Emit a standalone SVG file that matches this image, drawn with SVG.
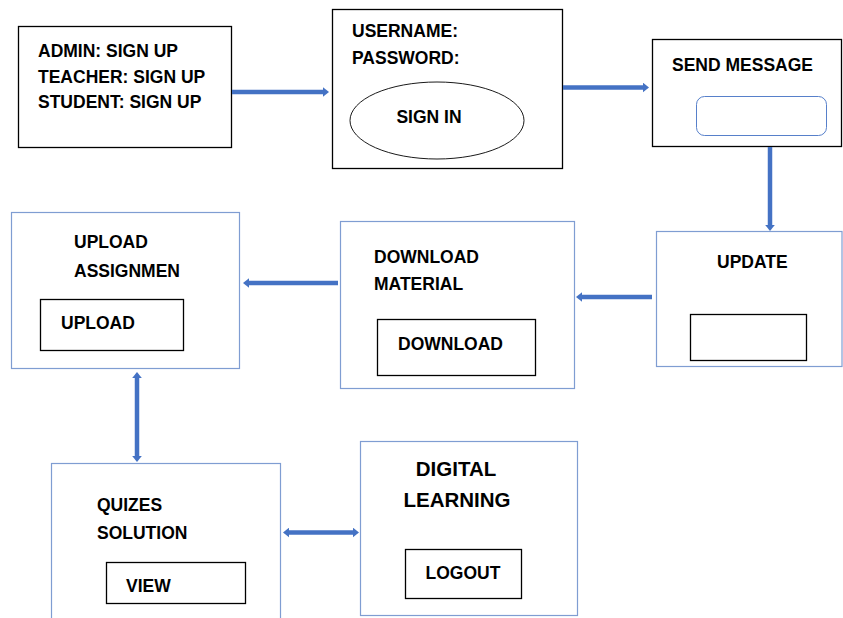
<svg xmlns="http://www.w3.org/2000/svg" width="843" height="618" viewBox="0 0 843 618">
<style>
.bk{fill:#fff;stroke:#000;stroke-width:1.3}
.bl{fill:#fff;stroke:#7F9DD2;stroke-width:1.2}
.t{font-family:"Liberation Sans",Arial,sans-serif;font-weight:bold;font-size:17.5px;fill:#000}
.tl{font-family:"Liberation Sans",Arial,sans-serif;font-weight:bold;font-size:20.5px;fill:#000}
.c{fill:none;stroke:#4472C4;stroke-width:4.5}
</style>
<defs>
<marker id="ah" viewBox="0 -5 6 10" refX="0" refY="0" markerWidth="6" markerHeight="10" markerUnits="userSpaceOnUse" orient="auto-start-reverse">
<path d="M0,-4.8 L6,0 L0,4.8 z" fill="#4472C4"/>
</marker>
</defs>
<rect width="843" height="618" fill="#fff"/>
<g id="signup">
<rect class="bk" x="18.5" y="26.5" width="213" height="121"/>
<text class="t" x="38" y="57">ADMIN: SIGN UP</text>
<text class="t" x="38" y="83">TEACHER: SIGN UP</text>
<text class="t" x="38" y="108">STUDENT: SIGN UP</text>
</g>
<g id="signin">
<rect class="bk" x="332.5" y="9.5" width="230" height="159"/>
<text class="t" x="352" y="37">USERNAME:</text>
<text class="t" x="352" y="64">PASSWORD:</text>
<ellipse cx="437" cy="120.5" rx="87" ry="38.5" fill="#fff" stroke="#000" stroke-width="0.9"/>
<text class="t" x="429" y="123" text-anchor="middle">SIGN IN</text>
</g>
<g id="sendmessage">
<rect class="bk" x="652.5" y="39.5" width="189" height="107"/>
<text class="t" x="672" y="71">SEND MESSAGE</text>
<rect x="696.5" y="96.5" width="130" height="39" rx="8" fill="#fff" stroke="#4472C4" stroke-width="0.9"/>
</g>
<g id="update">
<rect class="bl" x="656.5" y="231.5" width="185.5" height="135"/>
<text class="t" x="717" y="268">UPDATE</text>
<rect class="bk" x="690.5" y="314.5" width="116" height="46"/>
</g>
<g id="download">
<rect class="bl" x="340.5" y="221.5" width="234" height="167"/>
<text class="t" x="374" y="263">DOWNLOAD</text>
<text class="t" x="374" y="290">MATERIAL</text>
<rect class="bk" x="377.5" y="319.5" width="158" height="56"/>
<text class="t" x="398" y="350">DOWNLOAD</text>
</g>
<g id="upload">
<rect class="bl" x="11.5" y="212.5" width="228" height="156"/>
<text class="t" x="74" y="248">UPLOAD</text>
<text class="t" x="74" y="277">ASSIGNMEN</text>
<rect class="bk" x="40.5" y="299.5" width="143" height="51"/>
<text class="t" x="61" y="329">UPLOAD</text>
</g>
<g id="quizes">
<rect class="bl" x="51.5" y="463.5" width="229" height="160"/>
<text class="t" x="97" y="511">QUIZES</text>
<text class="t" x="97" y="539">SOLUTION</text>
<rect class="bk" x="106.5" y="562.5" width="139" height="41"/>
<text class="t" x="126" y="592">VIEW</text>
</g>
<g id="digitallearning">
<rect class="bl" x="360.5" y="441.5" width="217" height="174"/>
<text class="tl" x="456" y="476" text-anchor="middle">DIGITAL</text>
<text class="tl" x="457" y="507" text-anchor="middle">LEARNING</text>
<rect class="bk" x="405.5" y="549.5" width="116" height="49"/>
<text class="t" x="463" y="579" text-anchor="middle">LOGOUT</text>
</g>
<g id="connectors">
<line class="c" x1="232" y1="92" x2="323" y2="92" marker-end="url(#ah)"/>
<line class="c" x1="563" y1="87.5" x2="643" y2="87.5" marker-end="url(#ah)"/>
<line class="c" x1="770" y1="147" x2="770" y2="225" marker-end="url(#ah)"/>
<line class="c" x1="652" y1="297" x2="582" y2="297" marker-end="url(#ah)"/>
<line class="c" x1="338" y1="283" x2="249" y2="283" marker-end="url(#ah)"/>
<line class="c" x1="137" y1="378" x2="137" y2="456" marker-start="url(#ah)" marker-end="url(#ah)"/>
<line class="c" x1="289" y1="532.5" x2="353" y2="532.5" marker-start="url(#ah)" marker-end="url(#ah)"/>
</g>
</svg>
